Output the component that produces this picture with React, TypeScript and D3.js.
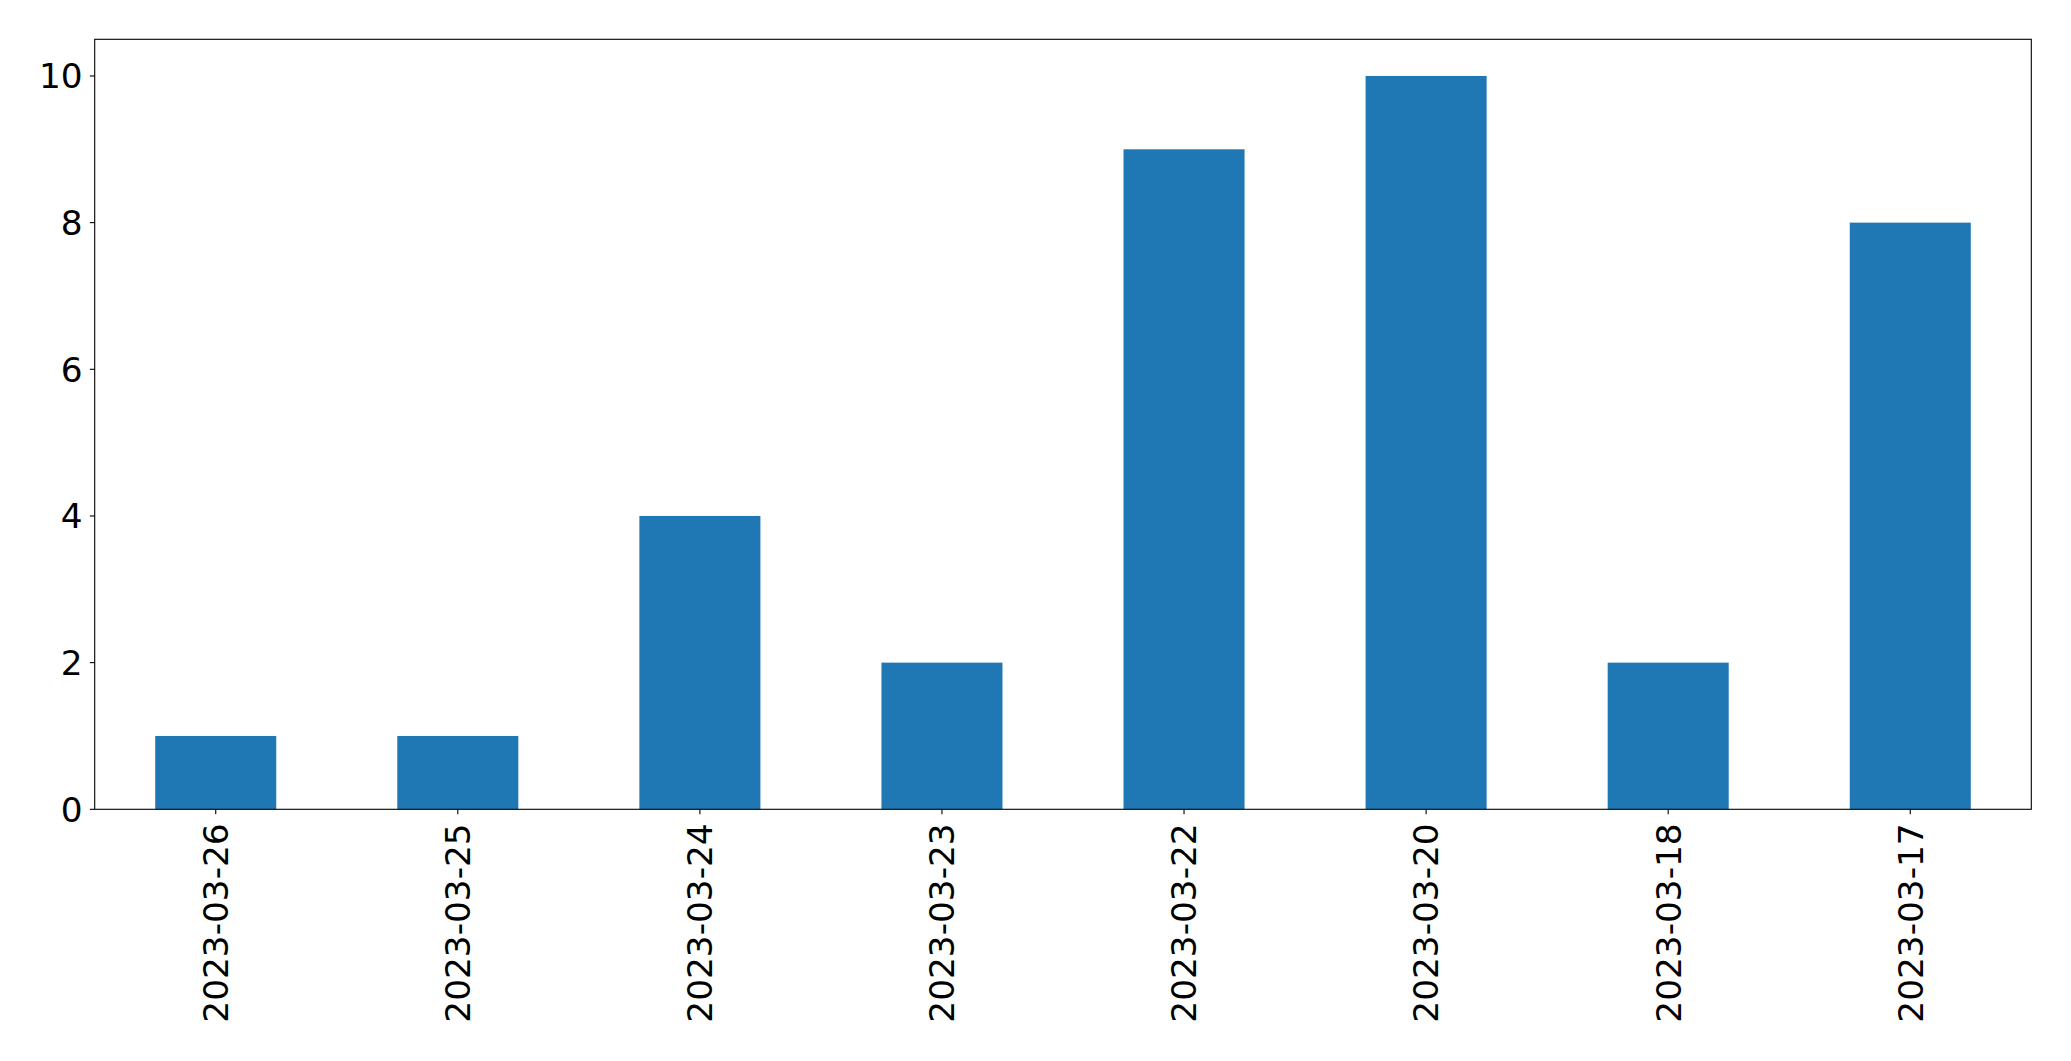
import React from "react";
import * as d3 from "d3";

const categories = ["2023-03-26", "2023-03-25", "2023-03-24", "2023-03-23", "2023-03-22", "2023-03-20", "2023-03-18", "2023-03-17"];
const values = [1, 1, 4, 2, 9, 10, 2, 8];
const yTicks = [0, 2, 4, 6, 8, 10];

const W = 2071;
const H = 1061;
const left = 94.7;
const right = 2031.3;
const top = 39.3;
const bottom = 809.3;
const FONT = "'DejaVu Sans', sans-serif";
const FS = 34.3;

export default function App() {
  const x = d3.scaleLinear().domain([-0.5, categories.length - 0.5]).range([left, right]);
  const y = d3.scaleLinear().domain([0, 10.5]).range([bottom, top]);
  const bw = x(0.25) - x(-0.25);
  return (
    <svg width={W} height={H} style={{ position: "absolute", left: 0, top: 0, background: "#fff" }}>
      <rect x={0} y={0} width={W} height={H} fill="#fff" />
      {values.map((v, i) => (
        <rect key={i} x={x(i) - bw / 2} y={y(v)} width={bw} height={y(0) - y(v)} fill="#1f77b4" />
      ))}
      <rect x={left} y={top} width={right - left} height={bottom - top} fill="none" stroke="#000" strokeWidth={1.1} />
      {yTicks.map((t) => (
        <g key={t}>
          <line x1={left - 4.9} x2={left} y1={y(t)} y2={y(t)} stroke="#000" strokeWidth={1.1} />
          <text x={left - 12} y={y(t)} dy="0.36em" textAnchor="end" fontFamily={FONT} fontSize={FS} fill="#000">{t}</text>
        </g>
      ))}
      {categories.map((c, i) => (
        <g key={c}>
          <line x1={x(i)} x2={x(i)} y1={bottom} y2={bottom + 4.9} stroke="#000" strokeWidth={1.1} />
          <text transform={`translate(${x(i)},${bottom + 14}) rotate(-90)`} dy="0.36em" textAnchor="end" fontFamily={FONT} fontSize={FS} fill="#000">{c}</text>
        </g>
      ))}
    </svg>
  );
}
